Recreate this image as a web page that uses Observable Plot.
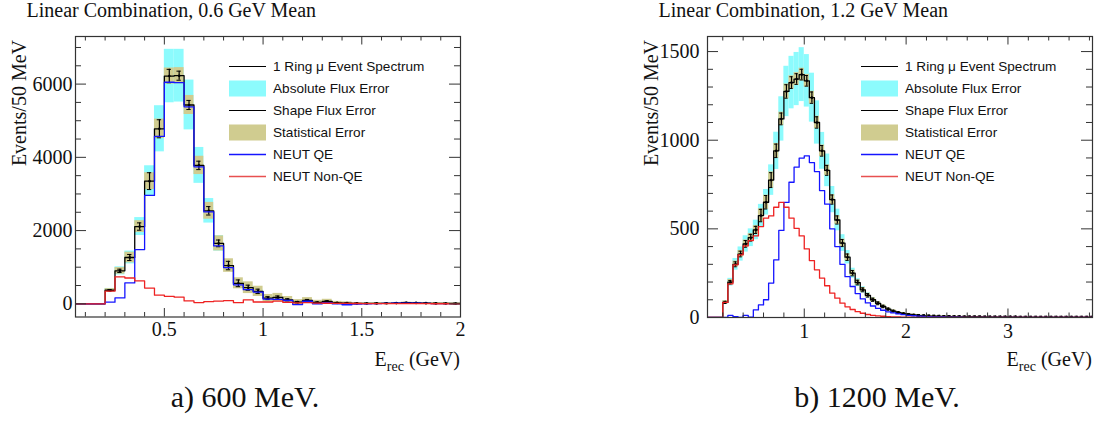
<!DOCTYPE html>
<html><head><meta charset="utf-8">
<script src="https://cdn.jsdelivr.net/npm/d3@7"></script>
<script src="https://cdn.jsdelivr.net/npm/@observablehq/plot@0.6"></script>
<style>
html,body{margin:0;padding:0;background:#fff;}
#wrap{position:relative;width:1094px;height:421px;overflow:hidden;background:#fff;}
#wrap svg{position:absolute;top:0;}
.cap{position:absolute;font-family:"Liberation Serif",serif;color:#111;white-space:nowrap;}
</style></head><body><div id="wrap"></div>
<script>
// ---------------- data ----------------
const binStart = 0.05, binWidth = 0.05;

// Panel a) 0.6 GeV mean, bins from 0.05 GeV (50 MeV wide)
const totA   = [0,0,0, 370,900,1265,2110,3350,4780,6220,6230,5430,3780, 2540,1650,1045,560,440,340,155,175,110,45, 90,36,64,27,18,12,10,12,14,20, 30,25,18,12,10,8];
const qeA    = [0,0,0, 45,160,570,1480,2960,4570,6050,6040,5380,3740, 2510,1580,990,520,385,320,130,120,90,-20, 70,0,35,0,-25,-5,0,5,10,15, 20,15,10,5,5,5];
const nonqeA = [0,0,0, 345,735,705,625,430,235,205,182,80,35, 60,75,85,30,110,50,50,75,40,25, 30,20,15,10,10,8,5,5,5,5, 5,3,3,2,2,2];
const absErrA   = [null,null,null, 50,110,175,245,420,630,730,720,680,490, 335,210,135,70,55,42,20,22,14,6, 11,5,8,4,3,2,2,2,2,3, 4,3,2,2,2,2];
const statErrA  = [null,null,null, 45,90,145,160,230,265,220,220,260,250, 230,205,185,150,160,140,100,110,90,70, 80,60,60,40,35,15,15,15,15,15, 15,15,15,15,15,15];
const shapeErrA = [null,null,null, 20,46,83,100,230,247,183,124,124,115, 115,92,115,92,70,60,40,40,30,20, 30,15,20,10,10,10,10,10,10,10, 10,10,10,10,10,10];

// Panel b) 1.2 GeV mean
const totB   = [0,0,0, 85,199,300,358,415,450,494,575,650,775, 940,1120,1275,1325,1345,1370,1335,1240,1100,940, 830,665,550,420,340,250,197,156,125,100, 80,62,47,36,28,22,18,14,11,9, 8,7,6,5,5,4,4,3,3,3, 3,2,2,2,2,2,2,2,1,1, 1,1,1,1,1,1,1,1,1,1, 1,1,1];
const qeB    = [0,0,0, 0,12,5,0,12,2,43,71,100,194, 325,491,649,763,848,899,912,874,823,716, 640,500,400,300,230,175,135,105,82,65, 52,41,32,26,20,16,12,10,8,6, 5,4,3,3,2,2,2,1,1,1, 1,1,1,1,1,1,1,0,0,0, 0,0,0,0,0,0,0,0,0,0, 0,0,0];
const nonqeB = [0,0,0, 85,190,297,353,404,434,460,513,560,573, 622,649,622,560,503,460,387,321,269,222, 179,137,109,81,60,45,33,24,17,12, 9,7,5,4,3,2,2,1,1,1, 0,0,0,0,0,0,0,0,0,0, 0,0,0,0,0,0,0,0,0,0, 0,0,0,0,0,0,0,0,0,0, 0,0,0];
const absErrB   = [null,null,null, 10,22,33,40,46,50,55,63,72,86, 105,125,142,148,150,152,148,138,122,104, 92,74,61,47,38,28,22,17,14,11, 9,7,5,4,3,2,2,2,1,1, 1,1,1,1,1,1,1,1,1,1, 1,1,1,1,1,1,1,1,1,1, 1,1,1,1,1,1,1,1,1,1, 1,1,1];
const statErrB  = [null,null,null, 10,15,18,20,22,23,24,38,40,46, 42,38,42,38,36,36,36,36,35,33, 30,28,25,22,20,17,15,13,12,11, 10,9,8,7,6,6,5,5,4,4, 4,3,3,3,3,3,3,3,3,3, 3,3,3,3,3,3,3,3,3,3, 3,3,3,3,3,3,3,3,3,3, 3,3,3];
const shapeErrB = [null,null,null, 6,10,14,16,19,19,20,35,38,42, 38,33,38,33,30,30,30,32,32,30, 28,26,23,20,18,15,13,11,10,9, 8,7,6,5,5,4,4,4,6,6, 6,6,6,6,6,6,6,6,6,6, 6,6,6,6,6,6,6,6,6,6, 6,6,6,6,6,6,6,6,6,6, 6,6,6];

const xTicksA = [0.5, 1, 1.5, 2];
const yTicksA = [0, 2000, 4000, 6000];
const xTicksB = [1, 2, 3];
const yTicksB = [0, 500, 1000, 1500];

const legendLabels = ["1 Ring \u03bc Event Spectrum", "Absolute Flux Error", "Shape Flux Error", "Statistical Error", "NEUT QE", "NEUT Non-QE"];
const titles = ["Linear Combination, 0.6 GeV Mean", "Linear Combination, 1.2 GeV Mean"];
const captions = ["a) 600 MeV.", "b) 1200 MeV."];

// ---------------- styles ----------------
const C = {cyan: "#8cfbfd", olive: "#d0cc90", blue: "#1515ff", red: "#ee2222", black: "#000", frame: "#333"};
const serif = "'Liberation Serif', 'Times New Roman', serif";
const sans = "'Liberation Sans', Arial, sans-serif";

function bins(tot, qe, non, abs, stat, shape) {
  return tot.map((v, i) => {
    const x0 = +(binStart + i * binWidth).toFixed(4);
    return {x0, x1: +(x0 + binWidth).toFixed(4), xc: +(x0 + binWidth / 2).toFixed(4),
            tot: v, qe: qe[i], non: non[i], abs: abs[i], stat: stat[i], shape: shape[i]};
  });
}
function stepPts(b, key) {
  const pts = b.map(d => ({x: d.x0, y: d[key]}));
  const last = b[b.length - 1];
  pts.push({x: last.x1, y: last[key]});
  return pts;
}

function panel(cfg) {
  const {b, xDomain, yDomain, xTicks, yTicks, xMinorStep, yMinorStep, width, height, ml, mr, mt, mb,
         yPad, xPad, capHalf, lw} = cfg;
  const fw = width - ml - mr, fh = height - mt - mb;
  const err = b.filter(d => d.abs != null);
  const inX = v => v > xDomain[0] + 1e-9 && v < xDomain[1] - 1e-9;
  const inY = v => v > yDomain[0] + 1e-9 && v < yDomain[1] - 1e-9;
  const xMinor = d3.range(Math.ceil(xDomain[0] / xMinorStep) * xMinorStep, xDomain[1], xMinorStep)
      .map(v => +v.toFixed(4)).filter(v => inX(v) && !xTicks.some(t => Math.abs(t - v) < 1e-6));
  const yMinor = d3.range(Math.ceil(yDomain[0] / yMinorStep) * yMinorStep, yDomain[1], yMinorStep)
      .filter(v => inY(v) && !yTicks.includes(v));
  const xMaj = xTicks.filter(inX), yMaj = yTicks.filter(inY);
  const xL = 8.5, xS = 4.5, yL = 11, yS = 6;
  const svg = Plot.plot({
    width, height, marginLeft: ml, marginRight: mr, marginTop: mt, marginBottom: mb,
    x: {domain: xDomain}, y: {domain: yDomain},
    style: {fontFamily: serif, fontSize: "20px", color: "#111", background: "transparent", overflow: "visible"},
    marks: [
      Plot.rect(err, {x1: "x0", x2: "x1", y1: d => d.tot - d.abs, y2: d => d.tot + d.abs, fill: C.cyan, clip: true}),
      Plot.rect(err, {x1: "x0", x2: "x1", y1: d => d.tot - d.stat, y2: d => d.tot + d.stat, fill: C.olive, clip: true}),
      Plot.line(stepPts(b, "tot"), {x: "x", y: "y", curve: "step-after", stroke: C.black, strokeWidth: lw, clip: true}),
      Plot.ruleX(err, {x: "xc", y1: d => d.tot - d.shape, y2: d => d.tot + d.shape, stroke: C.black, strokeWidth: 1.2, clip: true}),
      Plot.ruleY(err, {y: d => d.tot + d.shape, x1: d => d.xc - capHalf, x2: d => d.xc + capHalf, stroke: C.black, strokeWidth: 1, clip: true}),
      Plot.ruleY(err, {y: d => d.tot - d.shape, x1: d => d.xc - capHalf, x2: d => d.xc + capHalf, stroke: C.black, strokeWidth: 1, clip: true}),
      Plot.dot(err, {x: "xc", y: "tot", r: 1.3, fill: C.black, clip: true}),
      Plot.line(stepPts(b, "qe"), {x: "x", y: "y", curve: "step-after", stroke: C.blue, strokeWidth: lw, clip: true}),
      Plot.line(stepPts(b, "non"), {x: "x", y: "y", curve: "step-after", stroke: C.red, strokeWidth: lw, clip: true}),
      // inward ticks on all four sides
      Plot.ruleX(xMaj, {insetTop: fh - xL, stroke: C.frame}),
      Plot.ruleX(xMinor, {insetTop: fh - xS, stroke: C.frame}),
      Plot.ruleX(xMaj, {insetBottom: fh - xL, stroke: C.frame}),
      Plot.ruleX(xMinor, {insetBottom: fh - xS, stroke: C.frame}),
      Plot.ruleY(yMaj, {insetRight: fw - yL, stroke: C.frame}),
      Plot.ruleY(yMinor, {insetRight: fw - yS, stroke: C.frame}),
      Plot.ruleY(yMaj, {insetLeft: fw - yL, stroke: C.frame}),
      Plot.ruleY(yMinor, {insetLeft: fw - yS, stroke: C.frame}),
      Plot.frame({stroke: C.frame, strokeWidth: 1.2}),
      Plot.axisX({ticks: xTicks, tickSize: 0, tickPadding: xPad, tickFormat: d => String(d), label: null, fontSize: 20}),
      Plot.axisY({ticks: yTicks, tickSize: 0, tickPadding: yPad, tickFormat: d => String(d), label: null, fontSize: 20})
    ]
  });
  return {svg, fw, fh};
}

function decorate(svg, o) {
  const s = d3.select(svg);
  // y-axis label (rotated, top aligned)
  s.append("text").attr("transform", `translate(${o.ml - 49},${o.mt + 4}) rotate(-90)`)
    .attr("text-anchor", "end").attr("font-family", serif).attr("font-size", 20).attr("fill", "#111")
    .text("Events/50 MeV");
  // x-axis label
  const xl = s.append("text").attr("x", o.width - o.mr).attr("y", o.xLabelY).attr("text-anchor", "end")
    .attr("font-family", serif).attr("font-size", 20).attr("fill", "#111");
  xl.append("tspan").text("E");
  xl.append("tspan").attr("font-size", 14).attr("dy", 5).text("rec");
  xl.append("tspan").attr("dy", -5).text(" (GeV)");
  // legend
  const lx = o.ml + 154, tx = o.ml + 198, y0 = 66.5, dy = 22;
  const g = s.append("g").attr("text-anchor", "start");
  legendLabels.forEach((lab, i) => {
    const y = y0 + i * dy;
    if (i === 1 || i === 3) {
      g.append("rect").attr("x", lx).attr("y", y - 8).attr("width", 37).attr("height", 16)
        .attr("fill", i === 1 ? C.cyan : C.olive);
    } else {
      const col = i === 4 ? C.blue : i === 5 ? "#e85050" : C.black;
      g.append("line").attr("x1", lx).attr("x2", lx + 37).attr("y1", y).attr("y2", y)
        .attr("stroke", col).attr("stroke-width", i >= 4 ? 1.4 : 1.2);
    }
    g.append("text").attr("x", tx).attr("y", y).attr("dy", "0.36em").attr("text-anchor", "start")
      .attr("font-family", sans).attr("font-size", 13.6).attr("fill", "#111").text(lab);
  });
}

const wrap = document.getElementById("wrap");

const optA = {b: bins(totA, qeA, nonqeA, absErrA, statErrA, shapeErrA), xDomain: [0.05, 2], yDomain: [-360, 7300],
  xTicks: xTicksA, yTicks: yTicksA, xMinorStep: 0.1, yMinorStep: 500,
  width: 547, height: 421, ml: 75, mr: 87, mt: 36, mb: 104.5, yPad: 3, xPad: 5, capHalf: 0.011, lw: 1.3, xLabelY: 366};
const optB = {b: bins(totB, qeB, nonqeB, absErrB, statErrB, shapeErrB), xDomain: [0.05, 3.83], yDomain: [0, 1585],
  xTicks: xTicksB, yTicks: yTicksB, xMinorStep: 0.2, yMinorStep: 100,
  width: 547, height: 421, ml: 160, mr: 2, mt: 36, mb: 104, yPad: 8, xPad: 6, capHalf: 0.016, lw: 1.3, xLabelY: 366};

[optA, optB].forEach((o, k) => {
  const {svg} = panel(o);
  svg.style.left = (k * 547) + "px";
  decorate(svg, o);
  wrap.appendChild(svg);
  const t = document.createElement("div");
  t.className = "cap"; t.textContent = titles[k];
  t.style.left = (o.ml + k * 547 - 48.5) + "px"; t.style.top = "-1px"; t.style.fontSize = "20px";
  wrap.appendChild(t);
  const c = document.createElement("div");
  c.className = "cap"; c.textContent = captions[k];
  c.style.fontSize = "30px"; c.style.top = "380px";
  c.style.left = (k === 0 ? 245 : 877) + "px"; c.style.transform = "translateX(-50%)";
  wrap.appendChild(c);
});
</script></body></html>
